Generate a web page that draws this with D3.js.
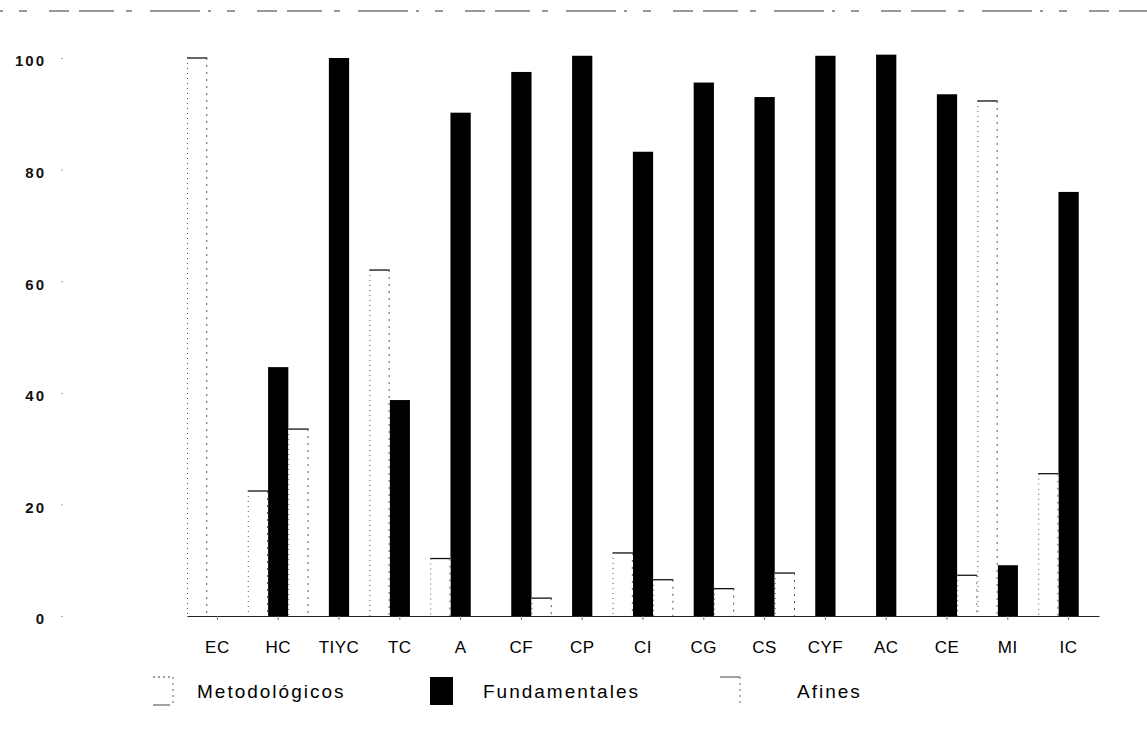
<!DOCTYPE html>
<html>
<head>
<meta charset="utf-8">
<script src="https://cdn.jsdelivr.net/npm/d3@7"></script>
<style>
  html, body { margin: 0; padding: 0; background: #fff; }
  svg { display: block; font-family: "Liberation Sans", Arial, Helvetica, sans-serif; }
</style>
</head>
<body>
<svg id="chart" width="1147" height="747"></svg>
<script>
// ---- data ----
const categories = ["EC","HC","TIYC","TC","A","CF","CP","CI","CG","CS","CYF","AC","CE","MI","IC"];
const seriesNames = ["Metodológicos","Fundamentales","Afines"];
const metodologicos = [100, 22.4, 0, 62, 10.3, 0, 0, 11.3, 0, 0, 0, 0, 0, 92.3, 25.5];
const fundamentales = [0, 44.6, 100, 38.7, 90.2, 97.5, 100.4, 83.2, 95.6, 93, 100.4, 100.6, 93.5, 9.1, 76];
const afines        = [0, 33.5, 0, 0, 0, 3.2, 0, 6.5, 4.9, 7.7, 0, 0, 7.3, 0, 0];
const yTicks = [0, 20, 40, 60, 80, 100];

const seriesValues = [metodologicos, fundamentales, afines];
const rows = categories.map((c, i) => ({
  cat: c,
  vals: seriesNames.map((s, k) => ({ series: s, k, value: seriesValues[k][i] }))
}));

// ---- layout ----
const svg = d3.select("#chart");
const x = d3.scaleBand().domain(categories).range([187, 1099]).paddingInner(0).paddingOuter(0);
const xi = d3.scaleBand().domain(seriesNames).range([0, x.bandwidth()]).padding(0);
const y = d3.scaleLinear().domain([0, 100]).range([616, 58]);

// faint scanned top border
svg.append("line")
  .attr("x1", 0).attr("x2", 1147).attr("y1", 11).attr("y2", 11)
  .attr("stroke", "#333").attr("stroke-width", 1.2)
  .attr("stroke-dasharray", "3 16 8 22 20 10 35 12 6 18 50 8");

// y axis (labels only, tiny ticks)
const yAxis = d3.axisLeft(y).tickValues(yTicks).tickSize(2).tickPadding(15).tickFormat(d3.format("d"));
const gy = svg.append("g").attr("transform", "translate(63,0)").call(yAxis);
gy.select(".domain").remove();
gy.selectAll(".tick line").attr("stroke", "#aaa");
gy.selectAll(".tick text")
  .attr("font-size", 15).attr("font-weight", "bold").attr("fill", "#111")
  .attr("letter-spacing", "2px").attr("dy", "0.52em");

// bars
const groups = svg.append("g").selectAll("g.grp").data(rows).join("g")
  .attr("class", "grp")
  .attr("transform", d => `translate(${x(d.cat)},0)`);

// black bars
groups.selectAll("rect.fund").data(d => d.vals.filter(v => v.k === 1 && v.value > 0)).join("rect")
  .attr("class", "fund")
  .attr("x", d => xi(d.series))
  .attr("width", xi.bandwidth())
  .attr("y", d => y(d.value))
  .attr("height", d => y(0) - y(d.value))
  .attr("fill", "#000");

// white (outlined) bars
const white = groups.selectAll("g.wb").data(d => d.vals.filter(v => v.k !== 1 && v.value > 0)).join("g").attr("class", "wb");
white.append("rect")
  .attr("x", d => xi(d.series)).attr("width", xi.bandwidth())
  .attr("y", d => y(d.value)).attr("height", d => y(0) - y(d.value))
  .attr("fill", "#fff");
white.append("line")
  .attr("x1", d => xi(d.series)).attr("x2", d => xi(d.series) + xi.bandwidth())
  .attr("y1", d => y(d.value)).attr("y2", d => y(d.value))
  .attr("stroke", "#111").attr("stroke-width", 1.3);
white.append("line")
  .attr("x1", d => xi(d.series) + 0.5).attr("x2", d => xi(d.series) + 0.5)
  .attr("y1", d => y(d.value)).attr("y2", y(0))
  .attr("stroke", "#555").attr("stroke-width", 1).attr("stroke-dasharray", "1 4");
white.append("line")
  .attr("x1", d => xi(d.series) + xi.bandwidth() - 0.5).attr("x2", d => xi(d.series) + xi.bandwidth() - 0.5)
  .attr("y1", d => y(d.value)).attr("y2", y(0))
  .attr("stroke", "#555").attr("stroke-width", 1).attr("stroke-dasharray", "2 5");

// x axis
const xAxis = d3.axisBottom(x).tickSize(4).tickPadding(21).tickSizeOuter(0);
const gx = svg.append("g").attr("transform", `translate(0,${y(0)})`).call(xAxis);
gx.select(".domain").attr("stroke", "#222").attr("stroke-width", 1.2);
gx.selectAll(".tick line").attr("stroke", "#777");
gx.selectAll(".tick text").attr("font-size", 17).attr("fill", "#000").attr("letter-spacing", "0.5px");

// legend
const legX = [153, 430, 720];
const legTextX = [197, 483, 797];
const leg = svg.append("g").selectAll("g").data(seriesNames).join("g");
leg.each(function(s, k) {
  const g = d3.select(this);
  if (k === 1) {
    g.append("rect").attr("x", legX[k]).attr("y", 677).attr("width", 23).attr("height", 28).attr("fill", "#000");
  } else {
    g.append("line").attr("x1", legX[k]).attr("x2", legX[k] + 20).attr("y1", 677).attr("y2", 677)
      .attr("stroke", "#444").attr("stroke-width", 1).attr("stroke-dasharray", k === 0 ? "2 3" : "none");
    g.append("line").attr("x1", legX[k] + 20).attr("x2", legX[k] + 20).attr("y1", 677).attr("y2", 705)
      .attr("stroke", "#666").attr("stroke-width", 1).attr("stroke-dasharray", "2 4");
    if (k === 0) g.append("line").attr("x1", legX[k]).attr("x2", legX[k] + 17).attr("y1", 705).attr("y2", 705)
      .attr("stroke", "#444").attr("stroke-width", 1);
  }
  g.append("text").attr("x", legTextX[k]).attr("y", 698)
    .attr("font-size", 19).attr("letter-spacing", "2px").attr("fill", "#000").text(s);
});
</script>
</body>
</html>
